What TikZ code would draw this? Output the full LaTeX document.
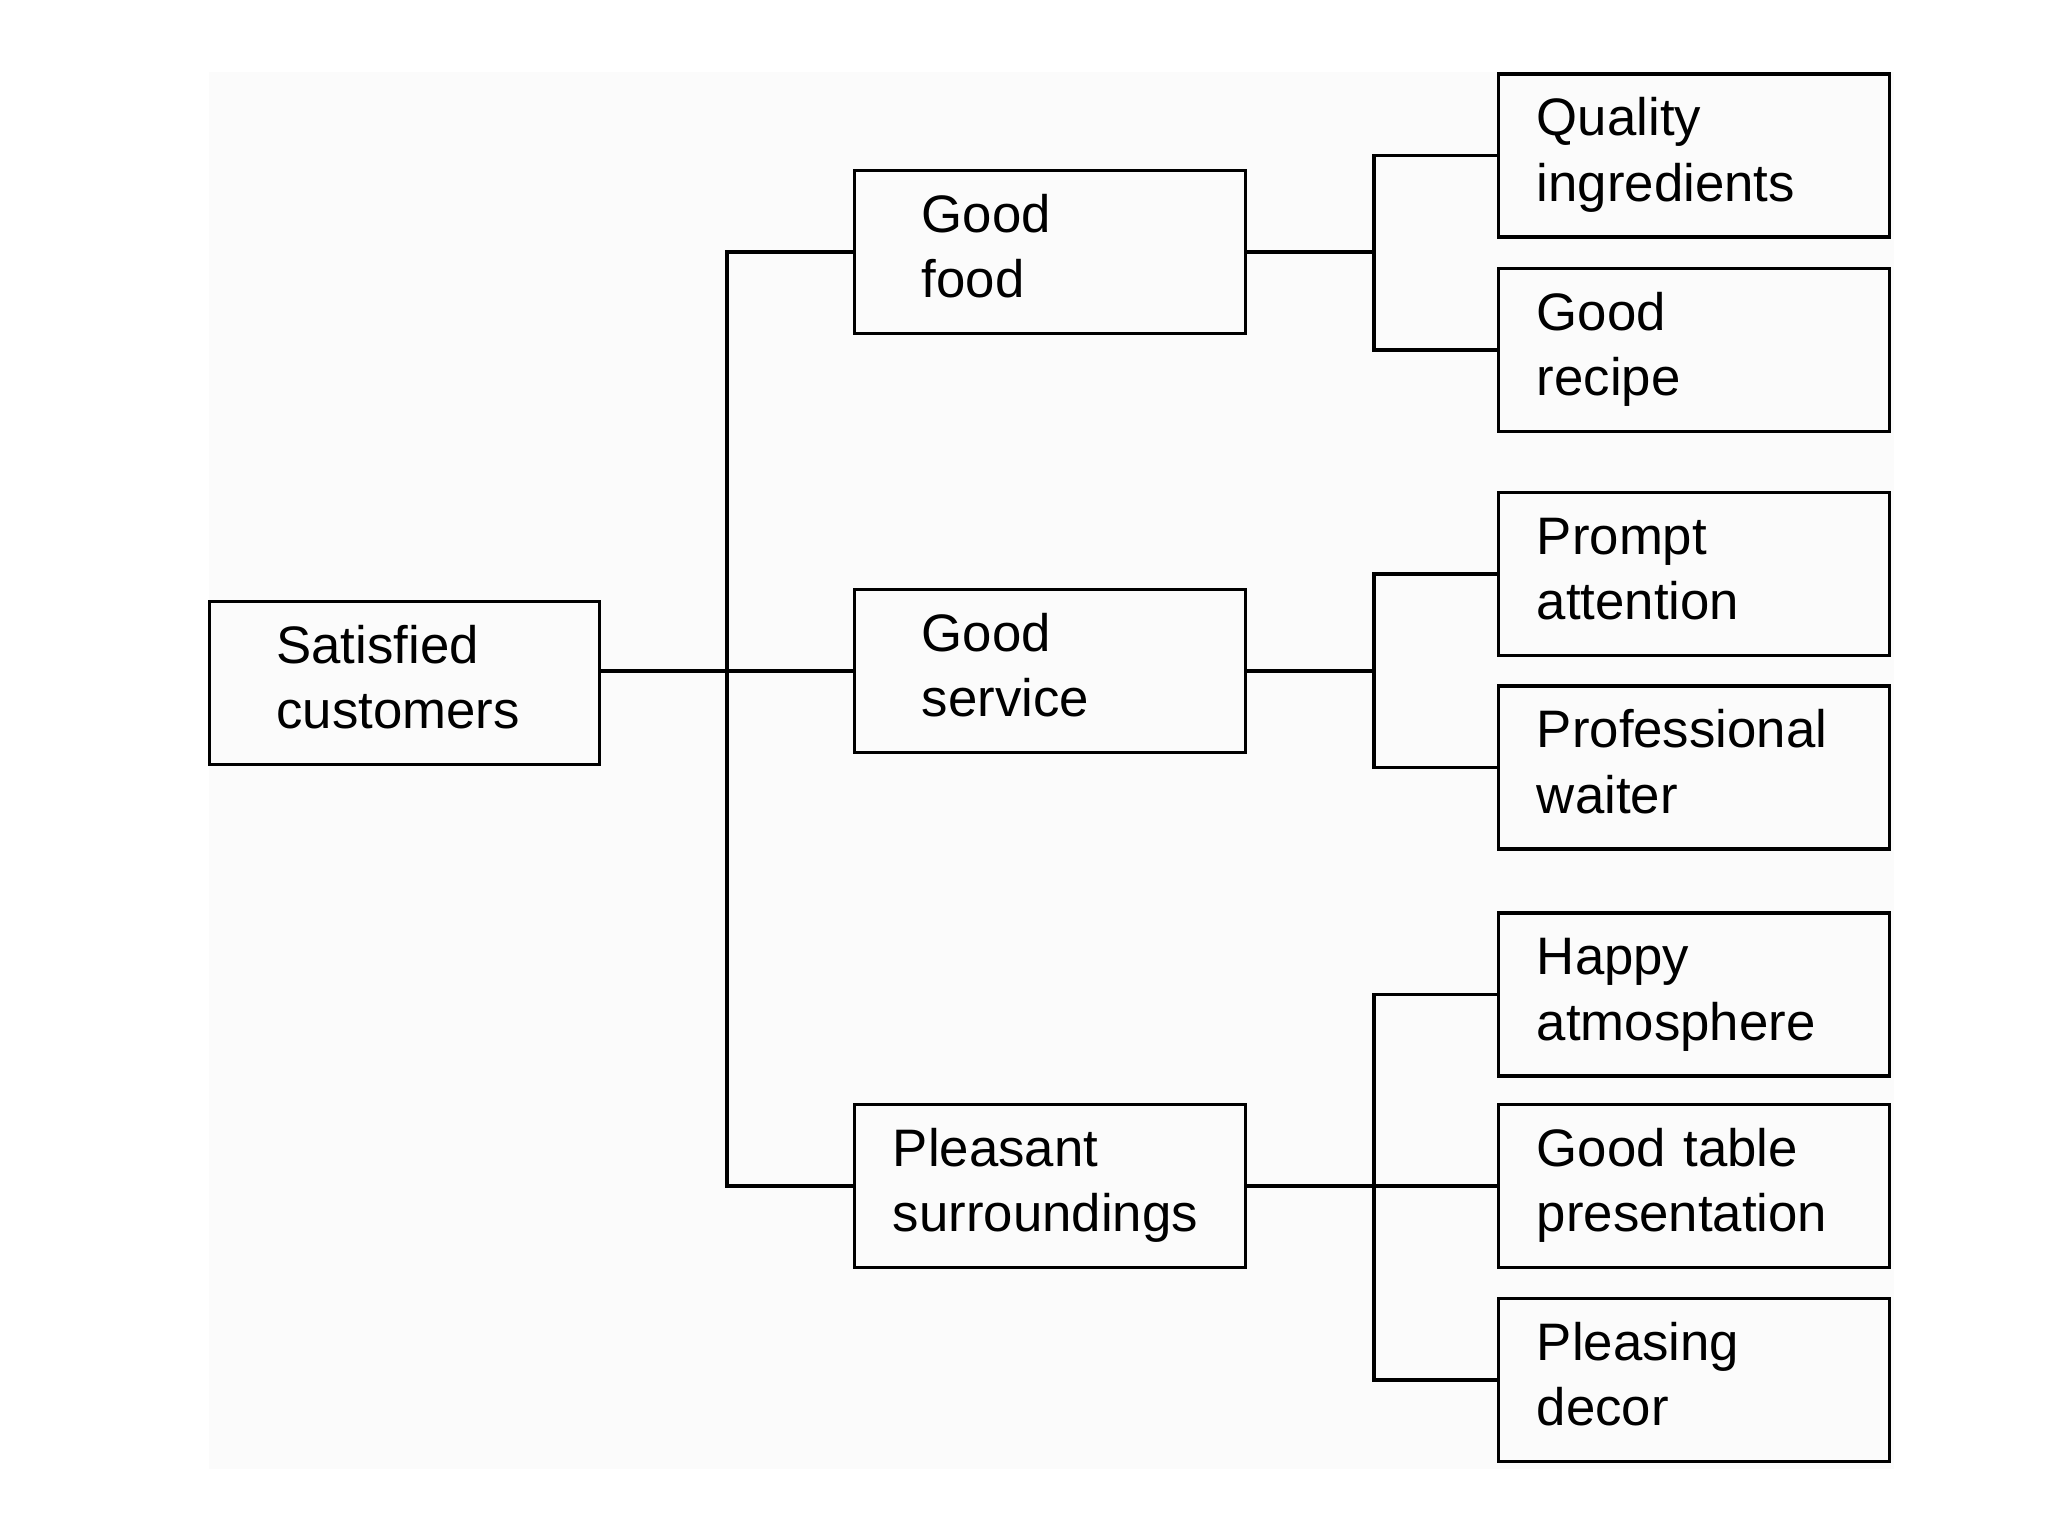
\documentclass[tikz,border=0pt]{standalone}
\usepackage{fontspec}
\setmainfont{Liberation Sans}
\definecolor{bgc}{RGB}{251,251,251}
\newcommand{\bstrut}{\rule[-5.55pt]{0pt}{18.5pt}}
\begin{document}
\begin{tikzpicture}[x=0.01cm,y=-0.01cm,
  box/.style={draw, line width=0.9pt, rectangle, minimum width=3.9cm, minimum height=1.63cm,
    inner ysep=0pt, align=left, font=\fontsize{15pt}{18.5pt}\selectfont},
  wide/.style={box, inner xsep=0.38cm, text width=3.14cm},
  narrow/.style={box, inner xsep=0.67cm, text width=2.56cm},
  conn/.style={line width=0.9pt}]
\useasboundingbox (0,0) rectangle (2048,1536);
\fill[bgc] (209,72) rectangle (1894,1469);

% root
\node[narrow] (sc) at (404.5,683) {\bstrut Satisfied\\customers\bstrut};
% middle level
\node[narrow] (gf) at (1050,252) {\bstrut Good\\food\bstrut};
\node[narrow] (gs) at (1050,671) {\bstrut Good\\service\bstrut};
\node[wide]   (ps) at (1050,1186) {\bstrut Pleasant\\surroundings\bstrut};
% leaves
\node[wide] (qi) at (1694,155.5) {\bstrut Quality\\ingredients\bstrut};
\node[wide] (gr) at (1694,350)   {\bstrut Good\\recipe\bstrut};
\node[wide] (pa) at (1694,574)   {\bstrut Prompt\\attention\bstrut};
\node[wide] (pw) at (1694,767.5) {\bstrut Professional\\waiter\bstrut};
\node[wide] (ha) at (1694,994.5) {\bstrut Happy\\atmosphere\bstrut};
\node[wide] (gt) at (1694,1186)  {\bstrut Good table\\presentation\bstrut};
\node[wide] (pd) at (1694,1380)  {\bstrut Pleasing\\decor\bstrut};

% junction points
\coordinate (t0) at (727,671);
\coordinate (b1) at (1374,252);
\coordinate (b2) at (1374,671);
\coordinate (b3) at (1374,1186);

% root to middle
\draw[conn] (sc.east |- gs.west) -- (gs.west);
\draw[conn] (gf.west) -| (t0) |- (ps.west);
% middle to leaves
\draw[conn] (gf.east) -- (b1);
\draw[conn] (qi.west) -| (b1) |- (gr.west);
\draw[conn] (gs.east) -- (b2);
\draw[conn] (pa.west) -| (b2) |- (pw.west);
\draw[conn] (ps.east) -- (gt.west);
\draw[conn] (ha.west) -| (b3) |- (pd.west);
\end{tikzpicture}
\end{document}
